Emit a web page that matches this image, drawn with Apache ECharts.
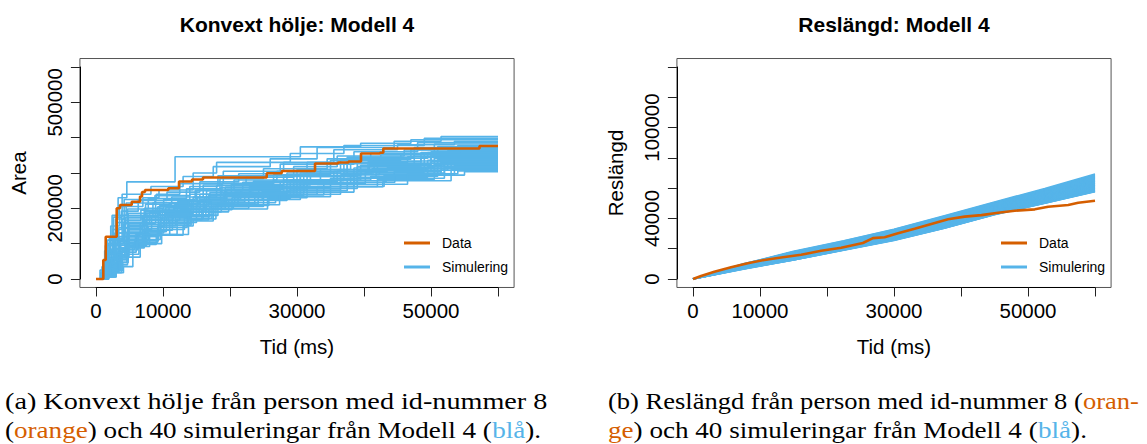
<!DOCTYPE html>
<html>
<head>
<meta charset="utf-8">
<script src="https://cdn.jsdelivr.net/npm/echarts@6/dist/echarts.min.js"></script>
<style>
  html, body { margin: 0; padding: 0; background: #fff; }
  #chart { width: 1147px; height: 444px; }
</style>
</head>
<body>
<div id="chart"></div>
<script>
// ---- data -------------------------------------------------------------

// Convex hull area of the observed path, [time ms, area] step points
const AREA_DATA = [[0,0],[600,0],[1090,53800],[1450,119700],[3090,200100],[3580,209500],[5330,218800],[6570,233500],[6870,246200],[7310,251900],[10790,256700],[12390,276000],[14330,281600],[15970,287300],[25480,299200],[27720,305700],[32690,326900],[36120,329700],[37690,332600],[39550,355200],[42390,357500],[42880,369400],[57240,376400],[60000,376400]];

// Convex hull area of the 40 simulated paths, [time ms, area] step points
const AREA_SIMS = [
  [[0,0],[700,20000],[1400,95000],[2400,180000],[3300,230000],[4600,275000],[11800,346000],[30500,374000],[39500,384000],[47000,394000],[60000,394000]],
  [[0,0],[900,35000],[1700,110000],[2600,175000],[3900,240000],[8200,262000],[13000,290000],[17500,318000],[26000,340000],[33000,372000],[44500,390000],[51500,403000],[60000,403000]],
  [[0,0],[600,25000],[1300,80000],[2200,150000],[3500,205000],[7000,230000],[9400,252000],[14500,300000],[18000,330000],[29000,355000],[37000,378000],[49000,398000],[60000,398000]],
  [[0,0],[1000,30000],[1800,100000],[2900,170000],[4200,225000],[9000,240000],[12500,270000],[19000,305000],[28000,330000],[35500,366000],[45000,380000],[53500,390000],[60000,390000]],
  [[0,0],[800,15000],[1500,70000],[2500,140000],[3800,192000],[6300,222000],[10600,246000],[15500,275000],[21300,298000],[27500,325000],[38500,360000],[48000,386000],[60000,386000]],
  [[0,0],[1100,40000],[2000,115000],[3100,180000],[4500,215000],[8800,236000],[14000,262000],[18200,292000],[31500,330000],[41000,356000],[50500,382000],[60000,382000]],
  [[0,0],[900,20000],[1800,75000],[2800,130000],[4200,180000],[7400,212000],[11300,232000],[16000,266000],[22400,288000],[29500,318000],[36000,348000],[46000,365000],[54000,378000],[60000,378000]],
  [[0,0],[1200,30000],[2100,95000],[3200,160000],[4700,198000],[7800,228000],[13500,255000],[18500,284000],[25000,312000],[34500,340000],[42500,352000],[51000,375000],[60000,375000]],
  [[0,0],[700,10000],[1500,50000],[2600,110000],[3900,170000],[7200,200000],[10100,225000],[14800,252000],[20600,280000],[27000,305000],[37500,345000],[47500,372000],[60000,372000]],
  [[0,0],[1300,25000],[2300,85000],[3400,145000],[4800,186000],[8900,222000],[15000,250000],[23500,277000],[30000,310000],[38000,342000],[49500,358000],[55500,369000],[60000,369000]],
  [[0,0],[1000,18000],[1900,60000],[2900,115000],[4300,165000],[6700,195000],[12200,219000],[16500,250000],[21900,274000],[28500,300000],[36500,339000],[47000,366000],[60000,366000]],
  [[0,0],[1100,28000],[2000,80000],[3000,130000],[4400,175000],[8500,216000],[14000,240000],[18800,271000],[26500,295000],[35000,336000],[45500,352000],[52500,363000],[60000,363000]],
  [[0,0],[800,12000],[1700,48000],[2800,100000],[4100,156000],[7300,190000],[10900,213000],[15500,240000],[20200,268000],[30500,300000],[41500,334000],[50000,360000],[60000,360000]],
  [[0,0],[1400,22000],[2400,72000],[3500,120000],[4900,160000],[8000,188000],[11700,210000],[17000,245000],[24300,266000],[32000,305000],[40600,332000],[48500,358000],[60000,358000]],
  [[0,0],[1200,15000],[2200,55000],[3300,105000],[4700,152000],[7600,185000],[9500,208000],[14500,232000],[18000,264000],[28000,292000],[37500,330000],[46500,346000],[54500,356000],[60000,356000]],
  [[0,0],[1500,20000],[2500,62000],[3600,110000],[4900,148000],[7100,180000],[12800,206000],[16800,236000],[22900,262000],[31000,298000],[39000,328000],[49000,354000],[60000,354000]],
  [[0,0],[900,14000],[1800,50000],[2900,95000],[4300,144000],[6900,178000],[9200,204000],[15200,230000],[19300,260000],[29500,290000],[37000,326000],[47500,352000],[60000,352000]],
  [[0,0],[1300,18000],[2300,58000],[3400,100000],[4800,140000],[8300,175000],[10400,202000],[13800,222000],[18600,258000],[26500,280000],[33500,310000],[40800,324000],[50000,350000],[60000,350000]],
  [[0,0],[1700,16000],[2700,54000],[3700,96000],[4900,136000],[7500,170000],[11600,200000],[16200,232000],[23100,256000],[30500,292000],[39500,322000],[51500,348000],[60000,348000]],
  [[0,0],[1000,10000],[2000,42000],[3100,86000],[4500,132000],[7000,168000],[9900,198000],[15600,226000],[19500,254000],[28000,280000],[35500,305000],[42000,320000],[52000,346000],[60000,346000]],
  [[0,0],[1400,12000],[2500,45000],[3600,88000],[4900,128000],[7300,166000],[12500,196000],[17200,226000],[21600,252000],[31500,290000],[39000,318000],[48500,344000],[60000,344000]],
  [[0,0],[1200,14000],[2200,46000],[3300,84000],[4700,124000],[6600,158000],[8900,194000],[14200,218000],[19200,250000],[27500,275000],[36000,305000],[43500,316000],[50500,342000],[60000,342000]],
  [[0,0],[1600,10000],[2700,40000],[3800,80000],[4900,120000],[7700,160000],[10800,192000],[16500,222000],[24800,248000],[29000,280000],[38500,314000],[53000,340000],[60000,340000]],
  [[0,0],[1100,9000],[2100,36000],[3200,76000],[4600,116000],[7200,155000],[9600,190000],[15000,215000],[20700,246000],[30000,278000],[37000,300000],[41200,312000],[51000,338000],[60000,338000]],
  [[0,0],[1800,12000],[2900,42000],[3900,78000],[4900,112000],[6900,150000],[11900,188000],[16000,218000],[22200,244000],[31000,280000],[39500,310000],[49500,336000],[60000,336000]],
  [[0,0],[1300,8000],[2400,32000],[3500,68000],[4800,108000],[7800,148000],[10200,185000],[14500,210000],[19000,242000],[28500,272000],[36500,295000],[42300,308000],[52500,334000],[60000,334000]],
  [[0,0],[1900,6000],[3000,18000],[4100,35000],[5500,96000],[7600,124000],[13000,150000],[14500,167000],[16800,200000],[20500,205000],[25000,233000],[35000,261000],[42800,275000],[43300,294000],[55000,304000],[60000,304000]],
  [[0,0],[1000,8000],[2000,34000],[3200,70000],[4600,104000],[7400,142000],[9300,182000],[16400,212000],[23700,240000],[30500,272000],[39000,306000],[50000,332000],[60000,332000]],
  [[0,0],[1500,10000],[2600,36000],[3700,66000],[4900,100000],[7000,138000],[11400,179000],[15400,206000],[19500,238000],[29500,268000],[38000,295000],[44500,304000],[51500,330000],[60000,330000]],
  [[0,0],[1200,7000],[2300,30000],[3400,62000],[4800,96000],[7500,134000],[10500,176000],[17000,206000],[21200,236000],[31000,270000],[40200,302000],[49000,328000],[60000,328000]],
  [[0,0],[1700,9000],[2800,32000],[3900,60000],[4900,92000],[8000,130000],[9700,173000],[14000,200000],[19300,234000],[28000,260000],[35000,285000],[41800,300000],[52000,326000],[60000,326000]],
  [[0,0],[1300,6000],[2500,26000],[3600,56000],[4800,88000],[7200,126000],[12100,170000],[16000,200000],[22800,232000],[30000,262000],[38500,297000],[50500,324000],[60000,324000]],
  [[0,0],[1500,10000],[2500,36000],[3500,66000],[4500,96000],[6100,130000],[10100,167000],[15800,196000],[20300,230000],[31500,262000],[43000,294000],[53500,322000],[60000,322000]],
  [[0,0],[1200,8000],[2200,30000],[3200,60000],[4300,92000],[5900,125000],[11000,164000],[17500,198000],[25600,228000],[29000,255000],[36500,280000],[41000,291000],[51000,320000],[60000,320000]],
  [[0,0],[1600,9000],[2600,32000],[3600,62000],[4600,90000],[6300,120000],[9400,160000],[15000,190000],[18700,225000],[30500,256000],[39000,288000],[49500,318000],[60000,318000]],
  [[0,0],[1400,7000],[2400,26000],[3400,54000],[4500,84000],[5800,112000],[9600,156000],[14100,190000],[19800,222000],[28500,250000],[37500,285000],[52000,316000],[60000,316000]],
  [[0,0],[1800,8000],[2800,28000],[3800,56000],[4700,82000],[6200,108000],[9300,152000],[14200,182000],[17600,210000],[27400,240000],[33000,262000],[42000,282000],[50500,313000],[60000,313000]],
  [[0,0],[1300,5000],[2400,22000],[3500,48000],[4600,76000],[6000,104000],[9200,146000],[13600,180000],[18200,216000],[26800,246000],[38500,278000],[53000,310000],[60000,310000]],
  [[0,0],[1900,6000],[3000,24000],[4000,46000],[4800,70000],[6400,100000],[9800,140000],[13200,172000],[17300,212000],[24200,240000],[36500,274000],[44600,296000],[51500,308000],[60000,308000]],
  [[0,0],[1700,5000],[2700,18000],[3800,40000],[4700,62000],[6600,98000],[9000,126000],[13800,170000],[17900,208000],[25800,238000],[34000,268000],[46500,298000],[54000,306000],[60000,306000]]
];

// Path length of the observed path, [time ms, length]
const RES_DATA = [[0,0],[1200,2000],[3180,4800],[5680,7700],[8180,10400],[10660,12600],[13150,14200],[16140,16000],[19130,18600],[22120,20600],[25360,23800],[26860,27000],[28600,27600],[30600,30200],[33080,33200],[35570,36400],[38070,39400],[40550,41200],[43050,42200],[45540,43800],[48030,45100],[51020,46000],[53010,47700],[56000,48900],[57500,50400],[60000,51700]];

// Path length of the 40 simulated paths, sampled at RES_TIMES
const RES_TIMES = [0, 7500, 15000, 22500, 30000, 37500, 45000, 52500, 60000];
const RES_SIMS = [
  [0, 9900, 18300, 25300, 32800, 41800, 50800, 59800, 69300],
  [0, 9700, 18000, 25000, 32600, 41500, 50500, 59200, 68800],
  [0, 10000, 17800, 24800, 32100, 41200, 50200, 58900, 68400],
  [0, 9500, 17900, 24600, 32300, 40800, 49800, 58600, 68000],
  [0, 9600, 17400, 24500, 31800, 41000, 49600, 58300, 67600],
  [0, 9200, 17600, 24200, 31600, 40500, 49300, 57900, 67200],
  [0, 9400, 17100, 24300, 31400, 40200, 48900, 58000, 66900],
  [0, 9000, 17300, 23900, 31300, 39900, 48700, 57500, 66500],
  [0, 9300, 16900, 23700, 31000, 40000, 48400, 57200, 66200],
  [0, 8900, 16700, 23800, 30700, 39600, 48200, 56800, 65800],
  [0, 9100, 16500, 23400, 30900, 39300, 47900, 56700, 65500],
  [0, 8700, 16800, 23200, 30400, 39100, 47700, 56400, 65100],
  [0, 8900, 16300, 23300, 30200, 38900, 47400, 56000, 64800],
  [0, 8500, 16100, 22900, 30300, 38600, 47200, 55800, 64500],
  [0, 8800, 15900, 22800, 29900, 38400, 47000, 55400, 64100],
  [0, 8400, 16000, 22500, 29700, 38200, 46700, 55200, 63800],
  [0, 8600, 15600, 22600, 29500, 38000, 46500, 54900, 63500],
  [0, 8200, 15400, 22300, 29600, 37700, 46200, 54700, 63200],
  [0, 8500, 15500, 22100, 29200, 37500, 46000, 54400, 62800],
  [0, 8100, 15200, 21900, 29000, 37300, 45800, 54200, 62500],
  [0, 8300, 15000, 22000, 28800, 37100, 45600, 53900, 62300],
  [0, 7900, 14800, 21700, 28600, 37000, 45300, 53600, 62000],
  [0, 8100, 14900, 21500, 28400, 36700, 45100, 53400, 61600],
  [0, 7700, 14500, 21300, 28300, 36500, 44900, 53100, 61300],
  [0, 7900, 14300, 21400, 28000, 36300, 44700, 52900, 61100],
  [0, 7500, 14400, 21000, 27800, 36000, 44500, 52600, 60800],
  [0, 7800, 14000, 20900, 27700, 35800, 44200, 52300, 60500],
  [0, 7300, 13900, 20600, 27400, 35600, 44000, 52100, 60200],
  [0, 7600, 13700, 20700, 27200, 35400, 43800, 51800, 59900],
  [0, 7200, 13500, 20300, 27000, 35100, 43600, 51600, 59700],
  [0, 7400, 13600, 20100, 26800, 34900, 43400, 51400, 59400],
  [0, 7000, 13200, 20000, 26600, 34700, 43300, 51100, 59100],
  [0, 7200, 13000, 19800, 26400, 34500, 43100, 50900, 58900],
  [0, 6900, 13100, 19600, 26300, 34300, 43000, 50700, 58600],
  [0, 7100, 12800, 19500, 26100, 34100, 42900, 50600, 58400],
  [0, 6700, 12900, 19300, 25900, 33900, 42800, 50400, 58200],
  [0, 6900, 12700, 19400, 25800, 33800, 42700, 50300, 58000],
  [0, 6600, 12600, 19200, 25700, 33700, 42600, 50200, 57900],
  [0, 6800, 12500, 19100, 25600, 33600, 42600, 50100, 57800],
  [0, 6500, 12550, 19000, 25500, 33500, 42500, 50000, 57600]
];

// Axis ranges and the tick labels that are printed
const TIME_MAX = 60000, TIME_STEP = 10000;
const TIME_LABELS = [0, 10000, 30000, 50000];
const AREA_MAX = 600000, AREA_STEP = 100000;
const AREA_LABELS = [0, 200000, 500000];
const RES_MAX = 140000, RES_STEP = 20000;
const RES_LABELS = [0, 40000, 100000];

// ---- styling and layout ----------------------------------------------

const ORANGE = '#D55E00';
const BLUE = '#56B4E9';
const SANS = 'Liberation Sans, Arial, sans-serif';
const SERIF = 'Liberation Serif, Times New Roman, serif';

const PLOT_TOP = 67, PLOT_H = 212;
const PANELS = [{ left: 96, width: 402 }, { left: 693, width: 402 }];
const EXPAND = 0.04; // the frame sits 4 % outside the tick range

const chart = echarts.init(document.getElementById('chart'), null, { renderer: 'svg' });

const only = (list) => (v) => (list.indexOf(v) >= 0 ? String(v) : '');

function plotGrid(p) {
  return { left: p.left, top: PLOT_TOP, width: p.width, height: PLOT_H, show: false, containLabel: false };
}
function frameGrid(p) {
  const dx = p.width * EXPAND, dy = PLOT_H * EXPAND;
  return {
    left: p.left - dx, top: PLOT_TOP - dy, width: p.width + 2 * dx, height: PLOT_H + 2 * dy,
    show: true, borderColor: '#555', borderWidth: 1, backgroundColor: 'transparent'
  };
}

function timeAxis(gridIndex) {
  return {
    gridIndex, type: 'value', min: 0, max: TIME_MAX, interval: TIME_STEP,
    offset: PLOT_H * EXPAND,
    axisLine: { show: true, onZero: false, lineStyle: { color: '#000', width: 1 } },
    axisTick: { show: true, length: 9, lineStyle: { color: '#222', width: 1 } },
    axisLabel: { formatter: only(TIME_LABELS), fontSize: 20.5, color: '#000', fontFamily: SANS, margin: 13 },
    splitLine: { show: false },
    name: 'Tid (ms)', nameLocation: 'middle', nameGap: 49,
    nameTextStyle: { fontSize: 20.5, color: '#000', fontFamily: SANS }
  };
}
function valueAxis(gridIndex, width, max, step, labels, title) {
  return {
    gridIndex, type: 'value', min: 0, max, interval: step,
    offset: width * EXPAND,
    axisLine: { show: true, onZero: false, lineStyle: { color: '#000', width: 1 } },
    axisTick: { show: true, length: 9, lineStyle: { color: '#222', width: 1 } },
    axisLabel: { formatter: only(labels), fontSize: 20.5, color: '#000', fontFamily: SANS, rotate: 90, margin: 15 },
    splitLine: { show: false },
    name: title, nameLocation: 'middle', nameGap: 51,
    nameTextStyle: { fontSize: 20.5, color: '#000', fontFamily: SANS }
  };
}
const hiddenAxis = (gridIndex) => ({ gridIndex, type: 'value', show: false, min: 0, max: 1 });

const series = [];
function addLine(name, data, xi, color, width, step, z) {
  series.push({
    type: 'line', name, data, xAxisIndex: xi, yAxisIndex: xi,
    step: step ? 'end' : false, showSymbol: false, symbol: 'none', clip: false,
    silent: true, z, color,
    lineStyle: { color, width }, itemStyle: { color }
  });
}
AREA_SIMS.forEach((s) => addLine('Simulering', s, 0, BLUE, 1.6, true, 2));
addLine('Data', AREA_DATA, 0, ORANGE, 2.6, true, 3);
RES_SIMS.forEach((vals) => addLine('Simulering', RES_TIMES.map((t, i) => [t, vals[i]]), 1, BLUE, 1.6, false, 2));
addLine('Data', RES_DATA, 1, ORANGE, 2.6, false, 3);

function legendAt(left) {
  return {
    left, top: 236, orient: 'vertical', padding: 0, itemGap: 10,
    itemWidth: 26, itemHeight: 3, icon: 'rect', selectedMode: false,
    data: ['Data', 'Simulering'],
    textStyle: { fontSize: 14, color: '#000', fontFamily: SANS, padding: [0, 0, 0, 7] }
  };
}

function titleText(text, cx) {
  return {
    type: 'text', x: cx, y: 24, silent: true,
    style: {
      text, font: 'bold 21px ' + SANS, fill: '#000',
      align: 'center', verticalAlign: 'middle', textAlign: 'center', textVerticalAlign: 'middle'
    }
  };
}

// Captions: LaTeX-like serif, widened to the Computer Modern measure
const CAP_FONT = '23px ' + SERIF;
const CAP_RICH = {
  o: { fill: ORANGE, color: ORANGE, font: CAP_FONT, lineHeight: 20 },
  b: { fill: BLUE, color: BLUE, font: CAP_FONT, lineHeight: 20 },
  n: { fill: '#000', color: '#000', font: CAP_FONT, lineHeight: 20 }
};
function captionLine(text, x, y, stretch) {
  return {
    type: 'text', x, y, scaleX: stretch, silent: true,
    style: {
      text, rich: CAP_RICH, font: CAP_FONT, fill: '#000', lineHeight: 20,
      align: 'left', verticalAlign: 'middle', textAlign: 'left', textVerticalAlign: 'middle'
    }
  };
}

const centre = (p) => p.left + p.width / 2;

chart.setOption({
  animation: false,
  backgroundColor: '#fff',
  grid: [plotGrid(PANELS[0]), plotGrid(PANELS[1]), frameGrid(PANELS[0]), frameGrid(PANELS[1])],
  xAxis: [timeAxis(0), timeAxis(1), hiddenAxis(2), hiddenAxis(3)],
  yAxis: [
    valueAxis(0, PANELS[0].width, AREA_MAX, AREA_STEP, AREA_LABELS, 'Area'),
    valueAxis(1, PANELS[1].width, RES_MAX, RES_STEP, RES_LABELS, 'Reslängd'),
    hiddenAxis(2), hiddenAxis(3)
  ],
  legend: [legendAt(PANELS[0].left + PANELS[0].width - 94), legendAt(PANELS[1].left + PANELS[1].width - 94)],
  series,
  graphic: [
    titleText('Konvext hölje: Modell 4', centre(PANELS[0])),
    titleText('Reslängd: Modell 4', centre(PANELS[1])),
    captionLine('{n|(a) Konvext hölje från person med id-nummer 8}', 5, 401, 1.226),
    captionLine('{n|(}{o|orange}{n|) och 40 simuleringar från Modell 4 (}{b|blå}{n|).}', 5, 430, 1.179),
    captionLine('{n|(b) Reslängd från person med id-nummer 8 (}{o|oran-}', 608, 401, 1.153),
    captionLine('{o|ge}{n|) och 40 simuleringar från Modell 4 (}{b|blå}{n|).}', 608, 430, 1.179)
  ]
});
</script>
</body>
</html>
